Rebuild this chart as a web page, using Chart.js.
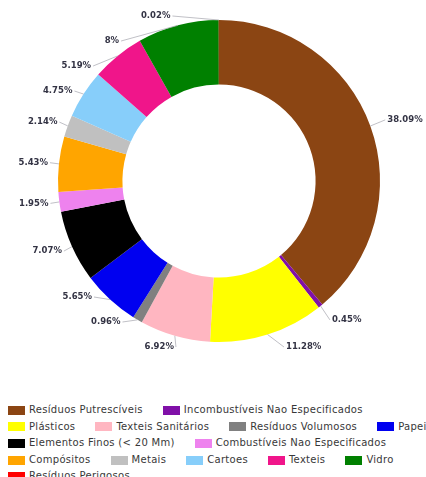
<!DOCTYPE html>
<html><head><meta charset="utf-8">
<script src="https://cdn.jsdelivr.net/npm/chart.js@4/dist/chart.umd.min.js"></script>
<style>
html,body{margin:0;padding:0;background:#fff;overflow:hidden;width:426px;height:477px;}
#wrap{position:absolute;left:0;top:0;width:426px;height:380px;}
#legend{position:absolute;left:8px;top:402px;width:438px;display:flex;flex-wrap:wrap;column-gap:20px;font:10px "DejaVu Sans";letter-spacing:0.3px;color:#383838;line-height:16.6px;}
.item{display:flex;align-items:center;white-space:nowrap;}
.box{width:17px;height:9px;margin-right:4px;flex:none;}
</style></head><body>
<div id="wrap"><canvas id="c"></canvas></div>
<div id="legend"></div>
<script>
const categories = [
  'Resíduos Putrescíveis', 'Incombustíveis Nao Especificados', 'Plásticos',
  'Texteis Sanitários', 'Resíduos Volumosos', 'Papeis', 'Elementos Finos (< 20 Mm)',
  'Combustíveis Nao Especificados', 'Compósitos', 'Metais', 'Cartoes', 'Texteis',
  'Vidro', 'Resíduos Perigosos'
];
const values = [38.09, 0.45, 11.28, 6.92, 0.96, 5.65, 7.07, 1.95, 5.43, 2.14, 4.75, 5.19, 8, 0.02];
const colors = [
  '#8B4513', '#8010A8', '#FFFF00', '#FFB6C1', '#808080', '#0000F0', '#000000',
  '#EE82EE', '#FFA500', '#C0C0C0', '#87CEFA', '#F0158A', '#008000', '#FF0000'
];

const outerLabels = {
  id: 'outerLabels',
  afterDatasetsDraw(chart) {
    const meta = chart.getDatasetMeta(0);
    const ctx = chart.ctx;
    const items = [];
    meta.data.forEach((arc, i) => {
      const p = arc.getProps(['x', 'y', 'startAngle', 'endAngle', 'outerRadius'], true);
      const mid = (p.startAngle + p.endAngle) / 2;
      const right = Math.cos(mid) >= 0;
      const rl = p.outerRadius + (right ? 18 : 11);
      items.push({i, mid, right, cx: p.x, cy: p.y, R: p.outerRadius, rl,
        y: p.y + rl * Math.sin(mid)});
    });
    const gap = 25;
    [true, false].forEach(side => {
      const s = items.filter(it => it.right === side).sort((a, b) => a.y - b.y);
      if (!s.length) return;
      const top = s[0].cy - s[0].R - 4, bot = s[0].cy + s[0].R + 5;
      for (let k = 0; k < s.length; k++) {
        s[k].y = Math.max(s[k].y, top, k ? s[k - 1].y + gap : -1e9);
      }
      for (let k = s.length - 1; k >= 0; k--) {
        s[k].y = Math.min(s[k].y, bot, k < s.length - 1 ? s[k + 1].y - gap : 1e9);
      }
    });
    ctx.save();
    ctx.font = 'bold 8.5px "DejaVu Sans"';
    ctx.textBaseline = 'middle';
    items.forEach(it => {
      const dy = it.y - it.cy;
      const dx = Math.sqrt(Math.max(it.rl * it.rl - dy * dy, 0));
      const x = it.right ? it.cx + dx : it.cx - dx;
      const ex = it.cx + it.R * Math.cos(it.mid), ey = it.cy + it.R * Math.sin(it.mid);
      ctx.strokeStyle = '#b0b0b8';
      ctx.lineWidth = 0.8;
      ctx.beginPath();
      ctx.moveTo(ex, ey);
      ctx.lineTo(it.right ? x - 2 : x + 2, it.y);
      ctx.stroke();
      ctx.fillStyle = '#333344';
      ctx.textAlign = it.right ? 'left' : 'right';
      ctx.fillText(values[it.i] + '%', x, it.y);
    });
    ctx.restore();
  }
};

const chart = new Chart(document.getElementById('c'), {
  type: 'doughnut',
  data: {
    labels: categories,
    datasets: [{ data: values, backgroundColor: colors, borderWidth: 0 }]
  },
  options: {
    responsive: true,
    maintainAspectRatio: false,
    animation: false,
    cutout: '60%',
    layout: { padding: { top: 20, bottom: 38, left: 12, right: 0 } },
    plugins: { legend: { display: false }, tooltip: { enabled: false } }
  },
  plugins: [outerLabels]
});

const legendEl = document.getElementById('legend');
chart.options.plugins.legend.labels.generateLabels(chart).forEach(item => {
  const d = document.createElement('div');
  d.className = 'item';
  const b = document.createElement('span');
  b.className = 'box';
  b.style.background = item.fillStyle;
  const t = document.createElement('span');
  t.textContent = item.text;
  d.appendChild(b); d.appendChild(t);
  legendEl.appendChild(d);
});
</script>
</body></html>
